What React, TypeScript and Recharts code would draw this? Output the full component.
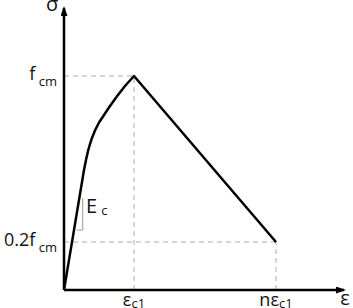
import React from 'react';
import { LineChart, Line, XAxis, YAxis, ReferenceLine } from 'recharts';

// strain / stress of the idealised curve (units are arbitrary)
const strain = [0, 20, 22, 24, 26, 28, 31, 35, 40, 46, 53, 61, 70, 212];
const stress = [0, 120, 130, 139, 146, 152, 159.5, 167.5, 175, 184, 193.8, 204, 214, 48];

// little slope triangle next to the initial tangent
const slopeX = [12.7, 18.7, 18.7];
const slopeY = [60, 60, 92];

const xTicks = [70, 212];
const xTickLabels = [['ε', 'c1'], ['nε', 'c1']];
const yTicks = [48, 214];
const yTickLabels = [['0.2f', ' cm'], ['f', ' cm']];

const curve = strain.map((x, i) => ({ x, y: stress[i] }));
const slope = slopeX.map((x, i) => ({ x, y: slopeY[i] }));

const FONT = '"Open Sans", sans-serif';
const dash = { stroke: '#aaa', strokeWidth: 1, strokeDasharray: '5 4' };

const XTick = (props: any) => {
  const { x, y, payload } = props;
  const lbl = xTickLabels[xTicks.indexOf(payload.value)];
  return (
    <text x={x} y={y + 16} textAnchor="middle" fontFamily={FONT} fill="#111">
      <tspan fontSize={18}>{lbl[0]}</tspan>
      <tspan fontSize={13} dy={2}>{lbl[1]}</tspan>
    </text>
  );
};

const YTick = (props: any) => {
  const { x, y, payload } = props;
  const lbl = yTickLabels[yTicks.indexOf(payload.value)];
  return (
    <text x={x - 7} y={y + 4} textAnchor="end" fontFamily={FONT} fill="#111">
      <tspan fontSize={18}>{lbl[0]}</tspan>
      <tspan fontSize={13} dy={6}>{lbl[1]}</tspan>
    </text>
  );
};

export default function App() {
  return (
    <div>
      <style>{'body{margin:0}'}</style>
      <LineChart
        width={353}
        height={308}
        margin={{ top: 8, right: 9, left: 0, bottom: 0 }}
        style={{ fontFamily: FONT }}
      >
        <defs>
          <marker
            id="arrow"
            viewBox="0 0 10 7"
            markerWidth={10}
            markerHeight={7}
            markerUnits="userSpaceOnUse"
            refX={8}
            refY={3.5}
            orient="auto-start-reverse"
          >
            <path d="M0,0 L10,3.5 L0,7 z" fill="#000" />
          </marker>
        </defs>
        <XAxis
          type="number"
          dataKey="x"
          domain={[0, 280]}
          ticks={xTicks}
          height={18}
          tickSize={0}
          tickMargin={0}
          tickLine={false}
          axisLine={{ stroke: '#000', strokeWidth: 2.5, markerEnd: 'url(#arrow)' }}
          tick={<XTick />}
          allowDataOverflow
        />
        <YAxis
          type="number"
          dataKey="y"
          domain={[0, 282]}
          ticks={yTicks}
          width={64}
          tickSize={0}
          tickMargin={0}
          tickLine={false}
          axisLine={{ stroke: '#000', strokeWidth: 2.5, markerStart: 'url(#arrow)' }}
          tick={<YTick />}
          allowDataOverflow
        />
        <ReferenceLine segment={[{ x: 0, y: yTicks[1] }, { x: xTicks[0], y: yTicks[1] }]} {...dash} />
        <ReferenceLine segment={[{ x: xTicks[0], y: 0 }, { x: xTicks[0], y: yTicks[1] }]} {...dash} />
        <ReferenceLine segment={[{ x: 0, y: yTicks[0] }, { x: xTicks[1], y: yTicks[0] }]} {...dash} />
        <ReferenceLine segment={[{ x: xTicks[1], y: 0 }, { x: xTicks[1], y: yTicks[0] }]} {...dash} />
        <Line
          data={slope}
          dataKey="y"
          type="linear"
          stroke="#999"
          strokeWidth={1}
          dot={false}
          isAnimationActive={false}
        />
        <Line
          data={curve}
          dataKey="y"
          type="linear"
          stroke="#000"
          strokeWidth={2.5}
          strokeLinejoin="round"
          dot={false}
          isAnimationActive={false}
        />
        <text x={52} y={11} textAnchor="middle" fontSize={20} fontFamily={FONT} fill="#111">σ</text>
        <text x={345} y={305} textAnchor="middle" fontSize={20} fontFamily={FONT} fill="#111">ε</text>
        <text x={86} y={213} fontFamily={FONT} fill="#111">
          <tspan fontSize={20}>E</tspan>
          <tspan fontSize={13} dx={4} dy={2}>c</tspan>
        </text>
      </LineChart>
    </div>
  );
}
